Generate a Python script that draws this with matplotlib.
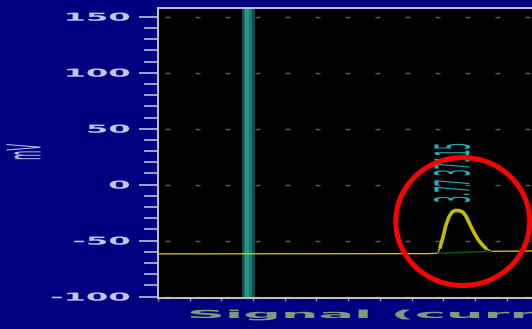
import matplotlib
matplotlib.use("Agg")
import matplotlib.pyplot as plt
from matplotlib.patches import Ellipse
from matplotlib.patheffects import AbstractPathEffect
from matplotlib.ticker import MultipleLocator
from matplotlib.transforms import Affine2D

# Detector trace: retention time (min) and signal (mV)
time_min = [0.00, 3.40, 3.53, 3.56, 3.60, 3.63, 3.67, 3.71, 3.75, 3.80, 3.85,
            3.89, 3.94, 3.99, 4.04, 4.09, 4.14, 4.21, 4.40, 4.72]
signal_mv = [-61.8, -61.6, -61.2, -56.0, -46.0, -37.0, -29.0, -24.5, -23.0, -23.2, -24.5,
             -28.5, -36.0, -43.0, -49.0, -53.5, -57.0, -59.5, -59.4, -59.2]

# Integrated peak
peak_start = 3.53
peak_end = 4.21
peak_rt = 3.77
peak_area = 37115

# Highlighted time window
band_start = 1.06
band_end = 1.22

y_ticks = [-100, -50, 0, 50, 100, 150]
y_label = "mV"
x_label = "Signal (current)"


class Widen(AbstractPathEffect):
    """Stretch glyphs horizontally about the left, right or centre edge."""

    def __init__(self, sx, anchor="left"):
        super().__init__()
        self._sx = sx
        self._anchor = anchor

    def draw_path(self, renderer, gc, tpath, affine, rgbFace=None):
        bb = tpath.get_extents(affine)
        x0 = {"left": bb.x0, "right": bb.x1,
              "center": 0.5 * (bb.x0 + bb.x1)}[self._anchor]
        stretch = Affine2D().translate(-x0, 0).scale(self._sx, 1).translate(x0, 0)
        renderer.draw_path(gc, tpath, affine + stretch, rgbFace)


plt.rcParams["axes.unicode_minus"] = False
plt.rcParams["font.family"] = ["DejaVu Sans"]

W, H = 532, 329
fig = plt.figure(figsize=(W / 100, H / 100), dpi=100, facecolor="#000080")
ax = fig.add_axes([158 / W, 31 / H, (W - 158) / W, (298 - 8) / H])
ax.set_facecolor("#000000")

ax.set_xlim(0, 4.72)
ax.set_ylim(-101.2, 157.8)

# spines
for side in ("left", "top", "bottom"):
    ax.spines[side].set_color("#c4c4d8")
    ax.spines[side].set_linewidth(1.4)
ax.spines["right"].set_visible(False)

# y ticks
ax.set_yticks(y_ticks)
ax.yaxis.set_minor_locator(MultipleLocator(10))
ax.tick_params(axis="y", which="major", direction="out", length=14, width=1.2,
               color="#c0c0dc", pad=6.5, labelsize=8, labelcolor="#c4c4f0")
ax.tick_params(axis="y", which="minor", direction="out", length=10, width=1.2,
               color="#b8b8d4")
for lbl in ax.get_yticklabels():
    lbl.set_fontweight("bold")
    lbl.set_path_effects([Widen(2.9, "right")])

# x ticks (unlabelled)
ax.xaxis.set_major_locator(MultipleLocator(0.4))
ax.tick_params(axis="x", which="major", direction="out", length=2, width=1,
               color="#8c8cb0", labelbottom=False)

# faint dashed grid at major levels
ax.set_axisbelow(True)
ax.grid(axis="y", which="major", color="#5c5c5c", linewidth=1,
        linestyle=(16.6, (3.6, 18)))

# highlighted window (soft-edged teal band)
ax.axvspan(band_start, band_end, color="#0e4e4a", lw=0, zorder=1)
w = band_end - band_start
ax.axvspan(band_start + 0.12 * w, band_end - 0.25 * w, color="#1c7a72", lw=0, zorder=1)
ax.axvspan(band_start + 0.25 * w, band_start + 0.55 * w, color="#2a9288", lw=0, zorder=1)

# trace
ax.plot(time_min, signal_mv, color="#d8d400", lw=0.9, zorder=3)
pk_t = [t for t in time_min if peak_start <= t <= peak_end]
pk_v = [v for t, v in zip(time_min, signal_mv) if peak_start <= t <= peak_end]

# integration baseline under the peak
ax.plot([pk_t[0], pk_t[-1]], [pk_v[0], pk_v[-1]], color="#0c5a0c", lw=1, zorder=3.5)

# emphasised peak
ax.plot(pk_t[1:-1], pk_v[1:-1], color="#c4bc00", lw=2.6, solid_joinstyle="round",
        solid_capstyle="round", zorder=4)

# peak annotation
ax.text(peak_rt - 0.05, -16, f"{peak_rt:.2f} {peak_area}", rotation=90,
        ha="center", va="bottom", fontsize=7.5, color="#22b4c4", zorder=5,
        path_effects=[Widen(4.6, "center")])

# highlight ring around the peak
ax.add_patch(Ellipse((3.846, -32.9), 1.69, 114.3, fill=False, edgecolor="#ff0000",
                     linewidth=3.6, clip_on=False, zorder=6))

# axis titles
fig.text(24 / W, 1 - 152 / H, y_label, rotation=90, ha="center", va="center",
         fontsize=7, color="#c8c8f0", path_effects=[Widen(4.8, "center")])
fig.text(190 / W, 1 - 318 / H, x_label, ha="left", va="baseline",
         fontsize=8, fontweight="bold", color="#7c9c80",
         path_effects=[Widen(4.75, "left")])

fig.savefig("out.png", dpi=100, facecolor=fig.get_facecolor())
